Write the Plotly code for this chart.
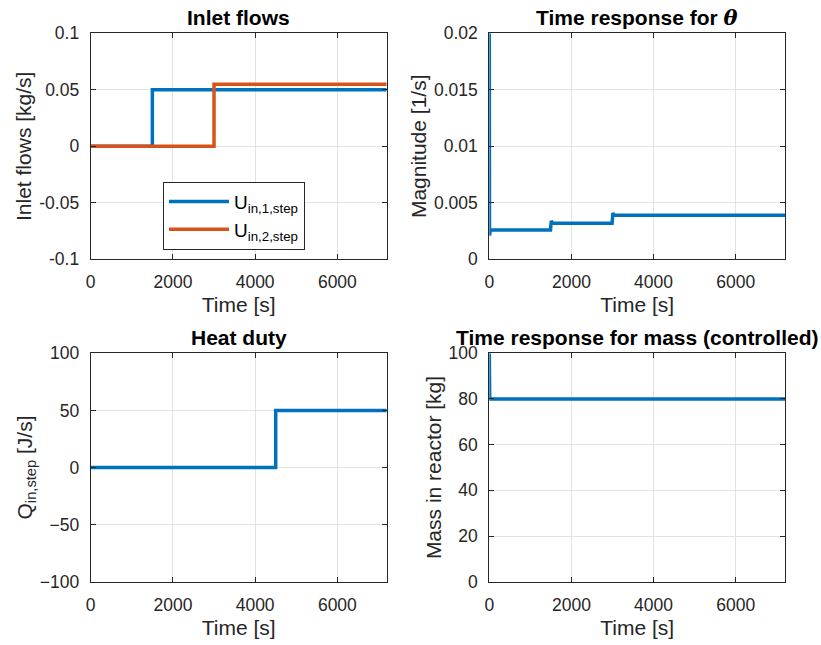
import plotly.graph_objects as go

# ---- data ----
t_u1 = [0, 1500, 7200]
u1 = [0, 0.05, 0.05]
t_u2 = [0, 3000, 7200]
u2 = [0, 0.055, 0.055]

t_theta = [0, 5, 25, 1490, 1510, 1540, 2990, 3010, 3040, 7200]
theta = [0.02, 0.0021, 0.0026, 0.0026, 0.0034, 0.0032, 0.0032, 0.0041, 0.0039, 0.0039]

t_q = [0, 4500, 7200]
q = [0, 50, 50]

t_m = [0, 10, 7200]
mass = [100, 80, 80]

x_ticks = [0, 2000, 4000, 6000]
y1_ticks = [-0.1, -0.05, 0, 0.05, 0.1]
y1_text = ["-0.1", "-0.05", "0", "0.05", "0.1"]
y2_ticks = [0, 0.005, 0.01, 0.015, 0.02]
y2_text = ["0", "0.005", "0.01", "0.015", "0.02"]
y3_ticks = [-100, -50, 0, 50, 100]
y4_ticks = [0, 20, 40, 60, 80, 100]

BLUE = "#0072BD"
ORANGE = "#D95319"
AX = "#262626"
GRID = "#e3e3e3"
FONT = "Liberation Sans"

W, H = 821, 645
# axes boxes in pixels: (left, right, top, bottom)
boxes = {
    1: (90.7, 386.7, 33.3, 259.3),
    2: (489.3, 785.0, 33.3, 259.3),
    3: (90.7, 386.7, 353.3, 581.7),
    4: (489.3, 785.0, 353.3, 581.7),
}

fig = go.Figure()

def add(tr, k):
    sfx = "" if k == 1 else str(k)
    tr.update(xaxis="x" + sfx, yaxis="y" + sfx)
    fig.add_trace(tr)

add(go.Scatter(x=t_u1, y=u1, mode="lines", line=dict(color=BLUE, width=3.5, shape="hv"),
               name="U<sub>in,1,step</sub>"), 1)
add(go.Scatter(x=t_u2, y=u2, mode="lines", line=dict(color=ORANGE, width=3.5, shape="hv"),
               name="U<sub>in,2,step</sub>"), 1)
add(go.Scatter(x=t_theta, y=theta, mode="lines", line=dict(color=BLUE, width=3.5),
               showlegend=False), 2)
add(go.Scatter(x=t_q, y=q, mode="lines", line=dict(color=BLUE, width=3.5, shape="hv"),
               showlegend=False), 3)
add(go.Scatter(x=t_m, y=mass, mode="lines", line=dict(color=BLUE, width=3.5),
               showlegend=False), 4)

y_cfg = {
    1: dict(range=[-0.1, 0.1], tickvals=y1_ticks, ticktext=y1_text, title="Inlet flows [kg/s]"),
    2: dict(range=[0, 0.02], tickvals=y2_ticks, ticktext=y2_text, title="Magnitude [1/s]"),
    3: dict(range=[-100, 100], tickvals=y3_ticks, title="Q<sub>in,step</sub> [J/s]"),
    4: dict(range=[0, 100], tickvals=y4_ticks, title="Mass in reactor [kg]"),
}
titles = {
    1: "Inlet flows",
    2: "Time response for <span style=\"font-family:'DejaVu Serif'\"><i>θ</i></span>",
    3: "Heat duty",
    4: "Time response for mass (controlled)",
}

common = dict(showline=True, linecolor=AX, linewidth=1, mirror="ticks", ticks="inside",
              ticklen=5, tickcolor=AX, showgrid=True, gridcolor=GRID, gridwidth=1,
              zeroline=False, automargin=False, ticklabelstandoff=7,
              tickfont=dict(family=FONT, size=17.5, color=AX))

layout = {}
for k, (l, r, t, b) in boxes.items():
    sfx = "" if k == 1 else str(k)
    layout["xaxis" + sfx] = dict(common, domain=[l / W, r / W], range=[0, 7200],
                                 tickvals=x_ticks, anchor="y" + sfx,
                                 title=dict(text="Time [s]", standoff=6,
                                            font=dict(family=FONT, size=21, color=AX)))
    yc = y_cfg[k]
    layout["yaxis" + sfx] = dict(common, domain=[1 - b / H, 1 - t / H], range=yc["range"],
                                 tickvals=yc["tickvals"], ticktext=yc.get("ticktext"),
                                 anchor="x" + sfx,
                                 title=dict(text=yc["title"], standoff=1,
                                            font=dict(family=FONT, size=21, color=AX)))
    fig.add_annotation(text=titles[k], xref="paper", yref="paper",
                       x=(l + r) / 2 / W, y=1 - (t - 15.5) / H, xanchor="center", yanchor="middle",
                       showarrow=False, font=dict(family=FONT, size=21, color="black", weight="bold"))

fig.update_layout(
    **layout,
    width=W, height=H,
    margin=dict(l=0, r=0, t=0, b=0),
    paper_bgcolor="white", plot_bgcolor="white",
    font=dict(family=FONT, color=AX),
    legend=dict(x=163 / W, y=1 - 181.7 / H, xanchor="left", yanchor="top",
                bgcolor="white", bordercolor=AX, borderwidth=1,
                font=dict(family=FONT, size=19, color="black"), itemwidth=60,
                tracegroupgap=0),
)

fig.write_html("out.html")
